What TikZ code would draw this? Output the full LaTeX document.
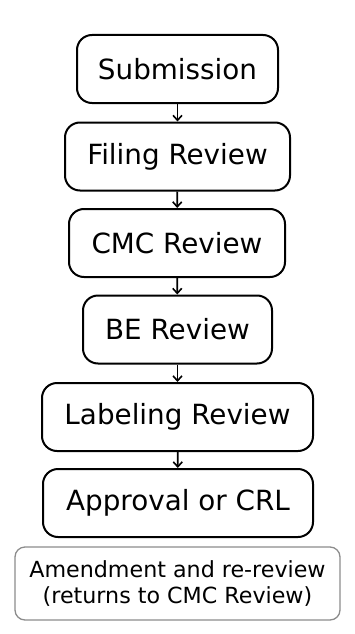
\documentclass[tikz,border=0pt]{standalone}
\usepackage{fontspec}
\setmainfont{DejaVu Sans}
\usetikzlibrary{arrows.meta}
\begin{document}
\begin{tikzpicture}[x=1pt,y=1pt,
  stepbox/.style={draw=black, line width=2pt, rounded corners=15pt, minimum height=68pt,
    inner sep=0pt, align=center, font=\fontsize{27.8}{32}\selectfont},
  notebox/.style={draw=black!45, line width=1.3pt, rounded corners=10pt, minimum height=73pt,
    inner sep=0pt, align=center, font=\fontsize{22.2}{26}\selectfont},
  flow/.style={line width=1.6pt, -{Straight Barb[length=5pt,width=9pt,line width=1.6pt]}}]
\useasboundingbox (0,0) rectangle (354,-634);
\node[stepbox, minimum width=201pt] (sub) at (177.5,-69) {Submission};
\node[stepbox, minimum width=225pt] (fil) at (177.5,-156.5) {Filing Review};
\node[stepbox, minimum width=216pt] (cmc) at (177,-243) {CMC Review};
\node[stepbox, minimum width=189pt] (be) at (177.5,-329.5) {BE Review};
\node[stepbox, minimum width=271pt] (lab) at (177.5,-417) {Labeling Review};
\node[stepbox, minimum width=270pt] (app) at (178,-503) {Approval or CRL};
\node[notebox, minimum width=325pt] (amd) at (177.5,-583.5) {Amendment and re-review\\(returns to CMC Review)};
\draw[flow] (sub) -- (fil);
\draw[flow] (fil) -- (cmc);
\draw[flow] (cmc) -- (be);
\draw[flow] (be) -- (lab);
\draw[flow] (lab) -- (app);
\end{tikzpicture}
\end{document}
